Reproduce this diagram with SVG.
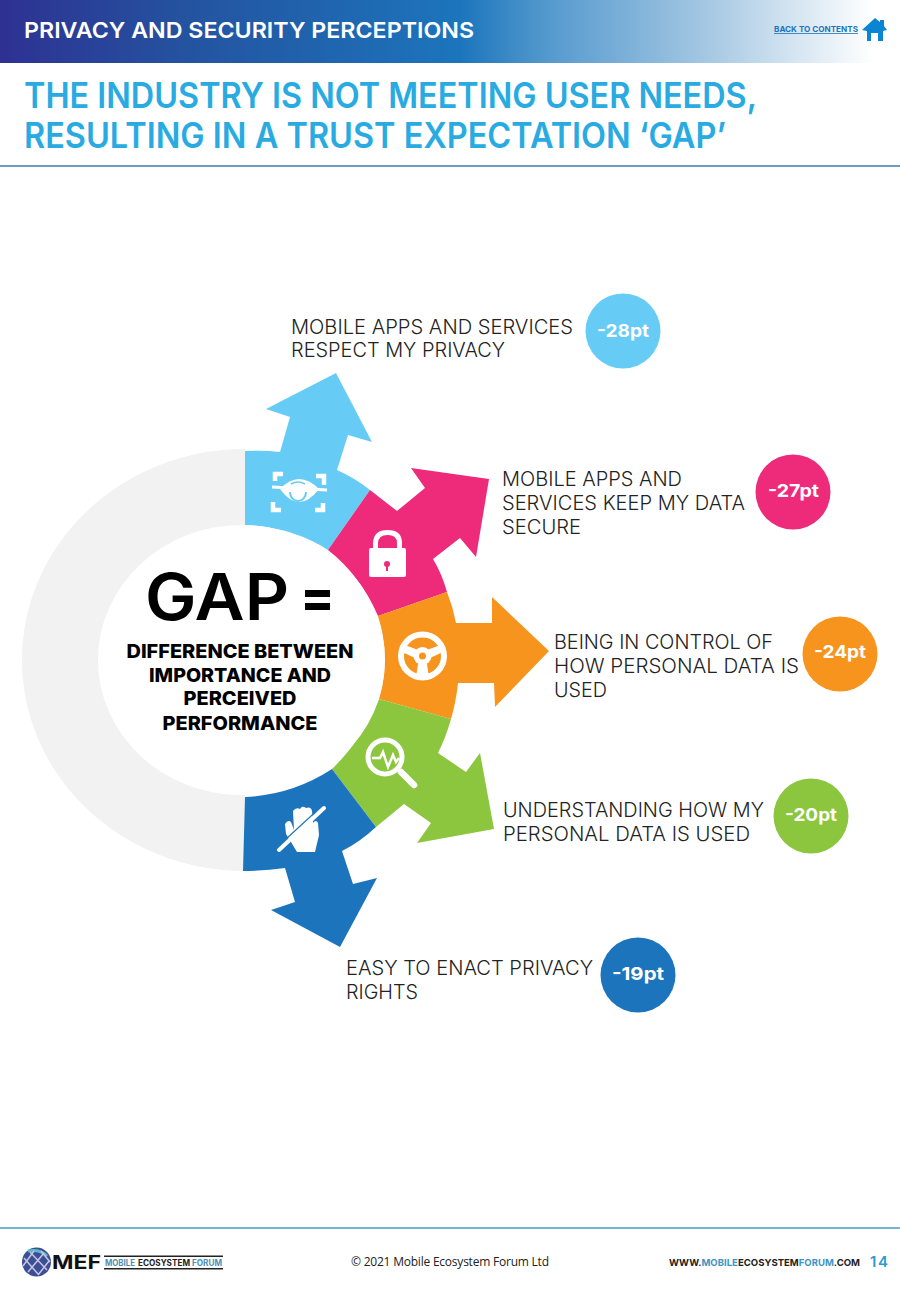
<svg xmlns="http://www.w3.org/2000/svg" width="900" height="1300" viewBox="0 0 900 1300">
<defs>
<linearGradient id="hdr" x1="0" x2="1" y1="0" y2="0"><stop offset="0" stop-color="#2e3192"/><stop offset="0.2" stop-color="#24529f"/><stop offset="0.52" stop-color="#1c75bc"/><stop offset="0.62" stop-color="#559ace"/><stop offset="0.8" stop-color="#a6c8e3"/><stop offset="0.985" stop-color="#ffffff"/></linearGradient>
</defs>
<style>
text{font-family:"Inter","Liberation Sans",sans-serif}
.lbl{font-size:20px;font-weight:300;fill:#222}
.bdg{font-size:18px;font-weight:700;fill:#fff}
.ttl{font-size:35px;font-weight:600;fill:#29abe2}
.def{font-size:19px;font-weight:800;fill:#000;text-anchor:middle}
.ic{fill:#fff}
.ics{fill:none;stroke:#fff}
</style>
<rect width="900" height="1300" fill="#fff"/>
<g id="header">
<rect width="886" height="63" fill="url(#hdr)"/>
<text x="24" y="38" font-size="22" font-weight="600" fill="#fff" textLength="450" lengthAdjust="spacingAndGlyphs">PRIVACY AND SECURITY PERCEPTIONS</text>
<text x="774" y="32" font-size="8" font-weight="700" fill="#1c75bc" text-decoration="underline" textLength="84" lengthAdjust="spacingAndGlyphs">BACK TO CONTENTS</text>
<path d="M875 18 L880 22 L880 20 L884 20 L884 26 L887 30 L883 31 L883 41 L878 41 L878 33 L871 33 L871 41 L867 41 L867 31 L862 30Z" fill="#0b84d2"/>
</g>
<g id="title">
<text class="ttl" x="24" y="108" textLength="733" lengthAdjust="spacingAndGlyphs">THE INDUSTRY IS NOT MEETING USER NEEDS,</text>
<text class="ttl" x="24" y="148" textLength="702" lengthAdjust="spacingAndGlyphs">RESULTING IN A TRUST EXPECTATION ‘GAP’</text>
<rect x="0" y="165" width="900" height="2" fill="#6b9fbf"/>
</g>
<g id="ring"><path d="M245 449 A223 211 0 0 0 245 871Z" fill="#f2f2f2"/></g>
<g id="arrows">
<g id="arrow-privacy"><path fill="#66ccf5" d="M245 451 Q264 450 280 452 L290 417 L266 409 L336 373 L372 442 L348 435 L337 470 Q355 478 370 490 L328 550 Q292 527 245 525Z"/></g>
<g id="arrow-secure"><path fill="#ee2a7b" d="M370 490 L397 511 L425 488 L411 468 L489 479 L476 557 L460 538 L433 559 Q442 574 447 592 L378 616 Q360 575 328 550Z"/></g>
<g id="arrow-control"><path fill="#f7941e" d="M378 616 L447 592 Q453 607 456 623 L492 623 L492 597 L549 651 L495 707 L494 683 L458 683 Q456 702 451 719 L379 699 Q391 657 378 616Z"/></g>
<g id="arrow-understand"><path fill="#8cc63f" d="M379 699 L451 719 Q446 737 438 753 L466 772 L480 753 L494 829 L417 843 L431 823 L404 804 L376 827 L332 769 Q362 740 379 699Z"/></g>
<g id="arrow-rights"><path fill="#1c75bc" d="M332 769 L376 827 Q360 842 342 851 L353 884 L377 878 L340 947 L271 910 L295 902 L285 868 Q265 871 243 871 L245 797 Q292 795 332 769Z"/></g>
</g>
<g id="center">
<ellipse cx="241.500" cy="660" rx="143.500" ry="135" fill="#fff"/>
<text x="145" y="620" font-size="64" font-weight="600" fill="#000" textLength="144" lengthAdjust="spacingAndGlyphs">GAP</text>
<rect x="305" y="590" width="25" height="7" fill="#000"/><rect x="305" y="603" width="25" height="7" fill="#000"/>
<text class="def" x="240" y="658" textLength="227" lengthAdjust="spacingAndGlyphs">DIFFERENCE BETWEEN</text>
<text class="def" x="240" y="682" textLength="182" lengthAdjust="spacingAndGlyphs">IMPORTANCE AND</text>
<text class="def" x="240" y="705" textLength="113" lengthAdjust="spacingAndGlyphs">PERCEIVED</text>
<text class="def" x="240" y="730" textLength="155" lengthAdjust="spacingAndGlyphs">PERFORMANCE</text>
</g>
<g id="icon-eye">
<path class="ic" d="M280 489 Q299 469 319 489 Q299 515 280 489Z"/>
<path class="ics" stroke-width="3" d="M272 487 L327 490"/>
<path fill="none" stroke="#66ccf5" stroke-width="2" d="M290 492 A8 9 0 0 0 306 492"/>
<path fill="none" stroke="#66ccf5" stroke-width="1.500" d="M291 484 Q298 480 305 484"/>
<path class="ics" stroke-width="4.500" d="M283 474 L275 474 L275 481 M316 476 L324 476 L324 485 M273 502 L273 510 L281 510 M323 503 L323 510 L315 510"/>
</g>
<g id="icon-lock">
<rect class="ic" x="369" y="548" width="37" height="29" rx="2"/>
<path class="ics" stroke-width="5" d="M375.500 550 L375.500 543 Q376 532.500 387.500 532.500 Q399.500 532.500 399.500 543 L399.500 550"/>
<circle cx="387" cy="564" r="3" fill="#ee2a7b"/><rect x="386" y="565" width="2" height="6" fill="#ee2a7b"/>
</g>
<g id="icon-wheel">
<circle class="ics" cx="422.500" cy="656" r="21.500" stroke-width="6"/>
<circle class="ic" cx="422.500" cy="656" r="9"/>
<circle cx="422.500" cy="656" r="3.500" fill="#f7941e"/>
<path class="ic" d="M405 645 L418 650 L415 658 L402 652Z M440 645 L427 650 L430 658 L443 652Z M418 664 L427 664 L429 677 L416 677Z"/>
</g>
<g id="icon-search">
<circle class="ics" cx="385" cy="757" r="17" stroke-width="5"/>
<path class="ics" stroke-width="6.500" stroke-linecap="round" d="M401 772 L414 785"/>
<path class="ics" stroke-width="2.500" d="M372 758 L380 758 L383 752 L388 767 L393 755 L396 762 L399 758"/>
</g>
<g id="icon-hand">
<path class="ic" d="M285 824 Q288 819 291 822 L294 830 L293 811 Q296 807 300 809 Q302 805 306 808 Q311 806 312 811 L313 823 Q316 819 318 823 L319 835 L315 852 L297 852 L291 842 L286 834Z"/>
<path fill="none" stroke="#1c75bc" stroke-width="1.200" d="M286 839 L322 806"/>
<path class="ics" stroke-width="4" stroke-linecap="round" d="M279 850 L324 808"/>
</g>
<g id="label-1"><text class="lbl" x="291" y="334" textLength="282" lengthAdjust="spacingAndGlyphs">MOBILE APPS AND SERVICES</text><text class="lbl" x="291" y="357" textLength="214" lengthAdjust="spacingAndGlyphs">RESPECT MY PRIVACY</text><circle cx="623" cy="331" r="37.500" fill="#66ccf5"/><text class="bdg" x="597" y="337" textLength="52" lengthAdjust="spacingAndGlyphs">-28pt</text></g>
<g id="label-2"><text class="lbl" x="502" y="486" textLength="180" lengthAdjust="spacingAndGlyphs">MOBILE APPS AND</text><text class="lbl" x="502" y="510" textLength="243" lengthAdjust="spacingAndGlyphs">SERVICES KEEP MY DATA</text><text class="lbl" x="502" y="534" textLength="79" lengthAdjust="spacingAndGlyphs">SECURE</text><circle cx="793" cy="492" r="37.500" fill="#ee2a7b"/><text class="bdg" x="768" y="497" textLength="51" lengthAdjust="spacingAndGlyphs">-27pt</text></g>
<g id="label-3"><text class="lbl" x="554" y="649" textLength="219" lengthAdjust="spacingAndGlyphs">BEING IN CONTROL OF</text><text class="lbl" x="554" y="673" textLength="245" lengthAdjust="spacingAndGlyphs">HOW PERSONAL DATA IS</text><text class="lbl" x="554" y="697" textLength="53" lengthAdjust="spacingAndGlyphs">USED</text><circle cx="840" cy="654" r="37.500" fill="#f7941e"/><text class="bdg" x="814" y="658" textLength="52" lengthAdjust="spacingAndGlyphs">-24pt</text></g>
<g id="label-4"><text class="lbl" x="503" y="817" textLength="261" lengthAdjust="spacingAndGlyphs">UNDERSTANDING HOW MY</text><text class="lbl" x="503" y="841" textLength="247" lengthAdjust="spacingAndGlyphs">PERSONAL DATA IS USED</text><circle cx="811" cy="816" r="37.500" fill="#8cc63f"/><text class="bdg" x="785" y="821" textLength="52" lengthAdjust="spacingAndGlyphs">-20pt</text></g>
<g id="label-5"><text class="lbl" x="346" y="975" textLength="247" lengthAdjust="spacingAndGlyphs">EASY TO ENACT PRIVACY</text><text class="lbl" x="346" y="999" textLength="72" lengthAdjust="spacingAndGlyphs">RIGHTS</text><circle cx="638" cy="975" r="37.500" fill="#1c75bc"/><text class="bdg" x="612" y="980" textLength="52" lengthAdjust="spacingAndGlyphs">-19pt</text></g>
<g id="footer">
<rect x="0" y="1227" width="900" height="2" fill="#6fb6cf"/>
<circle cx="36.500" cy="1262" r="14.500" fill="#3a4f96"/>
<path d="M28 1251 Q40 1249 47 1256" stroke="#5db8c9" stroke-width="3" fill="none"/>
<path d="M24 1258 L38 1274 M30 1252 L47 1270 M41 1251 L50 1262 M44 1253 L28 1272 M34 1251 L23 1266 M49 1261 L38 1275" stroke="#c9c4e0" stroke-width="1.500" fill="none"/>
<text x="52" y="1269" font-size="19" font-weight="700" fill="#111" textLength="49" lengthAdjust="spacingAndGlyphs">MEF</text>
<rect x="104" y="1255.500" width="119" height="1.500" fill="#222"/><rect x="104" y="1268" width="119" height="1.500" fill="#222"/>
<text x="105" y="1266" font-size="8.500" font-weight="700" fill="#4d8fb5" textLength="30" lengthAdjust="spacingAndGlyphs">MOBILE</text>
<text x="138" y="1266" font-size="8.500" font-weight="700" fill="#222" textLength="52" lengthAdjust="spacingAndGlyphs">ECOSYSTEM</text>
<text x="192" y="1266" font-size="8.500" font-weight="700" fill="#4d8fb5" textLength="30" lengthAdjust="spacingAndGlyphs">FORUM</text>
<text x="351" y="1266" font-size="12" fill="#222" style="font-family:'Open Sans',sans-serif" textLength="198">© 2021 Mobile Ecosystem Forum Ltd</text>
<text x="669" y="1266" font-size="9.500" font-weight="700" fill="#222" textLength="191" lengthAdjust="spacingAndGlyphs">WWW.<tspan fill="#3d94c4">MOBILE</tspan>ECOSYSTEM<tspan fill="#3d94c4">FORUM</tspan>.COM</text>
<text x="870" y="1267" font-size="15" font-weight="600" fill="#2a9bd0" textLength="18">14</text>
</g>
</svg>
